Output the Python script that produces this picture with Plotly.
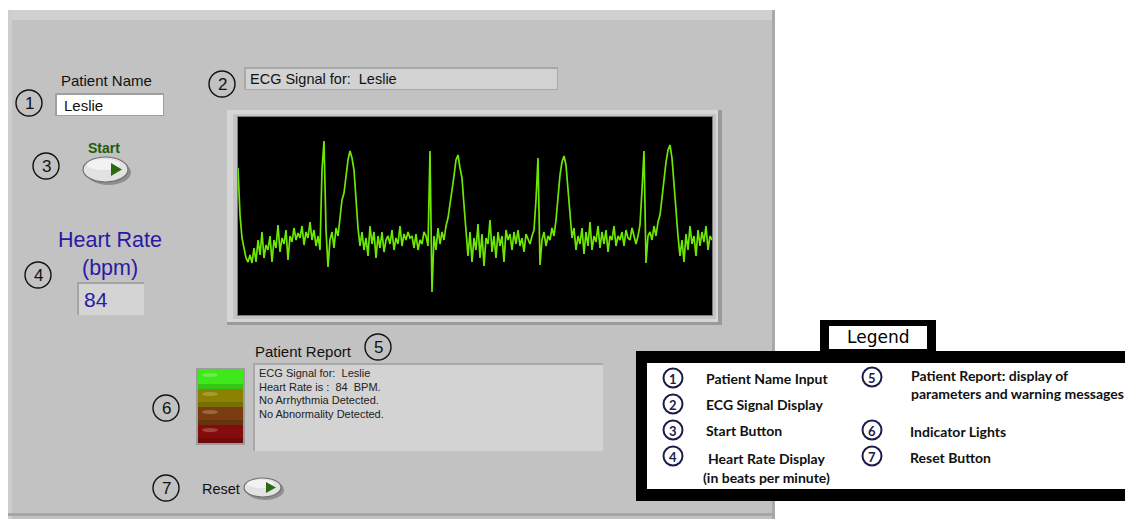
import plotly.graph_objects as go

W, H = 1125, 519

# ---------------- data ----------------
patient_name = "Leslie"
heart_rate_bpm = 84
sample_rate_hz = 150 / 2  # one sample every 2 px at ~150 px/s

ecg_seg1 = [0.48, 0.01, -0.22, -0.34, -0.42, -0.46, -0.39, -0.47, -0.32, -0.46,
            -0.24, -0.39, -0.16, -0.42, -0.29, -0.34, -0.20, -0.46, -0.24, -0.32,
            -0.09, -0.36, -0.22, -0.28, -0.14, -0.44, -0.20, -0.26, -0.12, -0.24,
            -0.17, -0.22, -0.10, -0.29, -0.16, -0.22, -0.06, -0.24, -0.14, -0.30,
            -0.20, -0.34]
ecg_seg2 = [0.46, 0.75, -0.14, -0.51, -0.24, -0.16, -0.32, -0.12, -0.20, -0.02,
            0.16, 0.23, 0.41, 0.56, 0.65, 0.58, 0.46, 0.16, -0.12, -0.30,
            -0.16, -0.34, -0.22, -0.40, -0.10, -0.28, -0.16, -0.42, -0.20, -0.32,
            -0.16, -0.36, -0.24, -0.20, -0.28, -0.14, -0.34, -0.22, -0.28, -0.10,
            -0.30, -0.18, -0.24, -0.16, -0.22, -0.20, -0.32, -0.18, -0.34, -0.24,
            -0.28, -0.16, -0.20, -0.30]
ecg_seg3 = [0.65, -0.76, -0.20, -0.34, -0.12, -0.28, -0.16, -0.24, -0.10, -0.02,
            0.11, 0.26, 0.40, 0.56, 0.61, 0.48, 0.38, 0.11, -0.19, -0.40,
            -0.16, -0.46, -0.22, -0.34, -0.08, -0.42, -0.18, -0.50, -0.22, -0.28,
            -0.04, -0.36, -0.20, -0.42, -0.16, -0.30, -0.20, -0.46, -0.14, -0.24,
            -0.18, -0.34, -0.16, -0.28, -0.14, -0.30, -0.22, -0.36, -0.18, -0.24,
            -0.28, -0.20, -0.14, 0.16, 0.58, -0.49, -0.24]
ecg_seg4 = [-0.16, -0.30, -0.20, -0.24, -0.12, -0.20, -0.04, 0.21, 0.41, 0.54,
            0.60, 0.51, 0.28, 0.01, -0.22, -0.12, -0.34, -0.20, -0.28, -0.12,
            -0.38, -0.16, -0.30, -0.06, -0.34, -0.20, -0.26, -0.10, -0.32, -0.16,
            -0.28, -0.14, -0.36, -0.20, -0.24, -0.10, -0.30, -0.20, -0.24, -0.16,
            -0.30, -0.14, -0.22, -0.24, -0.12, -0.20, -0.28, -0.20, -0.09, 0.26,
            0.65, -0.47, -0.20]
ecg_seg5 = [-0.16, -0.24, -0.10, -0.20, -0.06, 0.01, 0.18, 0.38, 0.54, 0.66,
            0.71, 0.58, 0.36, 0.06, -0.20, -0.40, -0.24, -0.46, -0.18, -0.34,
            -0.10, -0.28, -0.20, -0.40, -0.14, -0.30, -0.16, -0.26, -0.10, -0.34,
            -0.20, -0.24]
ecg_mv = ecg_seg1 + ecg_seg2 + ecg_seg3 + ecg_seg4 + ecg_seg5
ecg_t = [i / sample_rate_hz for i in range(len(ecg_mv))]

report_lines = [
    "ECG Signal for:  Leslie",
    "Heart Rate is :  84  BPM.",
    "No Arrhythmia Detected.",
    "No Abnormality Detected.",
]
legend_left = [("1", ["Patient Name Input"]), ("2", ["ECG Signal Display"]),
               ("3", ["Start Button"]), ("4", ["Heart Rate Display", "(in beats per minute)"])]
legend_right = [("5", ["Patient Report: display of", "parameters and warning messages"]),
                ("6", ["Indicator Lights"]), ("7", ["Reset Button"])]
indicator_colors = ["#3ee81a", "#8a8200", "#7a3c10", "#840c0c"]

# ---------------- helpers (page pixel -> paper) ----------------
def X(px):
    return px / W

def Y(py):
    return 1 - py / H

shapes = []
annotations = []

def rect(x0, y0, x1, y1, fill, line="rgba(0,0,0,0)", lw=0):
    shapes.append(dict(type="rect", xref="paper", yref="paper", layer="below",
                       x0=X(x0), x1=X(x1), y0=Y(y1), y1=Y(y0),
                       fillcolor=fill, line=dict(color=line, width=lw)))

def ellipse(x0, y0, x1, y1, fill, line="rgba(0,0,0,0)", lw=0, layer="below"):
    shapes.append(dict(type="circle", xref="paper", yref="paper", layer=layer,
                       x0=X(x0), x1=X(x1), y0=Y(y1), y1=Y(y0),
                       fillcolor=fill, line=dict(color=line, width=lw)))

def tri(xa, ya, xb, yb, xc, yc, fill):
    shapes.append(dict(type="path", xref="paper", yref="paper", layer="below",
                       path=f"M {X(xa)} {Y(ya)} L {X(xb)} {Y(yb)} L {X(xc)} {Y(yc)} Z",
                       fillcolor=fill, line=dict(width=0)))

def text(t, x, y, size, color="#111111", anchor="left", family="Liberation Sans"):
    annotations.append(dict(text=t, xref="paper", yref="paper", x=X(x), y=Y(y),
                            xanchor=anchor, yanchor="middle", showarrow=False,
                            font=dict(size=size, color=color, family=family)))

def numcircle(n, cx, cy, r=13, color="#111111", lw=1.4, size=17, bold=False,
              family="Liberation Sans"):
    ellipse(cx - r, cy - r, cx + r, cy + r, "rgba(0,0,0,0)", color, lw, layer="above")
    t = f"<b>{n}</b>" if bold else n
    text(t, cx, cy + 0.5, size, color, "center", family)

# ---------------- panel ----------------
rect(8, 10, 775, 519, "#c2c2c2")
rect(8, 10, 775, 20, "#d0d0d0")
rect(8, 10, 12, 519, "#cecece")
rect(772, 10, 775, 519, "#a9a9a9")
rect(8, 513, 775, 516, "#a6a6a6")

# Patient name
text("Patient Name", 107, 81, 15, anchor="center")
rect(55, 93, 164, 116, "#a0a0a0")
rect(57, 95, 163, 115, "#ffffff")
text(patient_name, 62, 105, 15)
numcircle("1", 29, 103)

# ECG label
rect(244, 67, 558, 90, "#a8a8a8")
rect(246, 69, 557, 89, "#d2d2d2")
text("ECG Signal for:  " + patient_name, 248, 79, 14.5)
numcircle("2", 222, 84)

# ECG frame
rect(227, 110, 722, 325, "#9a9a9a")
rect(227, 110, 718, 322, "#d6d6d6")
rect(233, 114, 716, 319, "#c4c4c4")
rect(237, 116, 713, 316, "#7a7a7a")
rect(238, 117, 712, 315, "#000000")

# Start button
text("<b>Start</b>", 104, 148, 14, "#1e5c0c", anchor="center")
ellipse(86, 160, 131, 185, "#8e8e8e")
ellipse(83, 157, 128, 182, "#e2e2e2", "#707070", 1.2)
ellipse(87, 159, 120, 170, "#f2f2f2")
tri(111, 163, 122, 169.5, 111, 176, "#2c6a12")
numcircle("3", 46, 166)

# Heart rate
text("Heart Rate", 110, 240, 21.5, "#2b19a6", anchor="center")
text("(bpm)", 110, 268, 21.5, "#2b19a6", anchor="center")
rect(77, 282, 144, 315, "#a4a4a4")
rect(79, 284, 144, 315, "#d4d4d4")
text(str(heart_rate_bpm), 82, 299, 21, "#2b19a6")
numcircle("4", 38, 275)

# Patient report
text("Patient Report", 253, 351, 15)
numcircle("5", 378, 347)
rect(253, 363, 603, 451, "#a8a8a8")
rect(255, 365, 603, 451, "#d3d3d3")
for i, line in enumerate(report_lines):
    text(line, 257, 373 + i * 13.5, 11, "#222222")

# Indicator lights
rect(196, 368, 245, 445, "#9c9c9c")
seg_y = [370, 389, 407, 425, 443]
for i, c in enumerate(indicator_colors):
    rect(198, seg_y[i], 243, seg_y[i + 1], c)
    ellipse(202, seg_y[i] + 3, 218, seg_y[i] + 7, "rgba(255,255,255,0.22)")
    rect(198, seg_y[i + 1] - 5, 243, seg_y[i + 1], "rgba(0,0,0,0.15)")
numcircle("6", 166, 408)

# Reset
text("Reset", 200, 489, 14.5)
ellipse(246, 480, 284, 500, "#8e8e8e")
ellipse(244, 478, 281, 497, "#e2e2e2", "#707070", 1.2)
ellipse(247, 479.5, 274, 488, "#f2f2f2")
tri(266, 482, 276, 487.5, 266, 493, "#2c6a12")
numcircle("7", 166, 488)

# ---------------- legend ----------------
rect(636, 351, 1125, 501, "#000000")
rect(647, 363, 1125, 489, "#ffffff")
rect(820, 320, 936, 352, "#000000")
rect(829, 326, 927, 349, "#ffffff")
text("Legend", 878, 337, 17, "#000000", "center", "DejaVu Sans")

NAVY = "#1c1c4a"
LFONT = "Lato"
left_y = [378, 404, 430, 456]
for (n, lines), cy in zip(legend_left, left_y):
    numcircle(n, 673, cy, r=9.5, color=NAVY, lw=2, size=13, bold=True, family=LFONT)
    if len(lines) == 1:
        text(f"<b>{lines[0]}</b>", 704, cy, 14, "#111111", "left", LFONT)
    else:
        text(f"<b>{lines[0]}</b>", 766, cy + 2, 14, "#111111", "center", LFONT)
        text(f"<b>{lines[1]}</b>", 766, cy + 21, 14, "#111111", "center", LFONT)
right_y = [377, 430, 456]
for (n, lines), cy in zip(legend_right, right_y):
    numcircle(n, 872, cy, r=9.5, color=NAVY, lw=2, size=13, bold=True, family=LFONT)
    if len(lines) == 1:
        text(f"<b>{lines[0]}</b>", 908, cy + 1, 14, "#111111", "left", LFONT)
    else:
        text(f"<b>{lines[0]}</b>", 909, cy - 2, 14, "#111111", "left", LFONT)
        text(f"<b>{lines[1]}</b>", 909, cy + 16, 14, "#111111", "left", LFONT)

# ---------------- figure ----------------
fig = go.Figure()
fig.add_trace(go.Scatter(x=ecg_t, y=ecg_mv, mode="lines",
                         line=dict(color="#6ee800", width=1.7),
                         hoverinfo="skip", showlegend=False))

fig.update_layout(
    width=W, height=H, margin=dict(l=0, r=0, t=0, b=0),
    paper_bgcolor="#ffffff", plot_bgcolor="rgba(0,0,0,0)",
    xaxis=dict(domain=[X(238), X(712)], range=[ecg_t[0], ecg_t[-1]],
               visible=False, fixedrange=True),
    yaxis=dict(domain=[Y(315), Y(117)], range=[-0.99, 0.99],
               visible=False, fixedrange=True),
    shapes=shapes, annotations=annotations, showlegend=False,
)

fig.write_html(
    "out.html",
    config={"displayModeBar": False},
    post_script="document.body.style.margin='0';"
                "document.documentElement.style.overflow='hidden';"
                "document.body.style.overflow='hidden';",
)
